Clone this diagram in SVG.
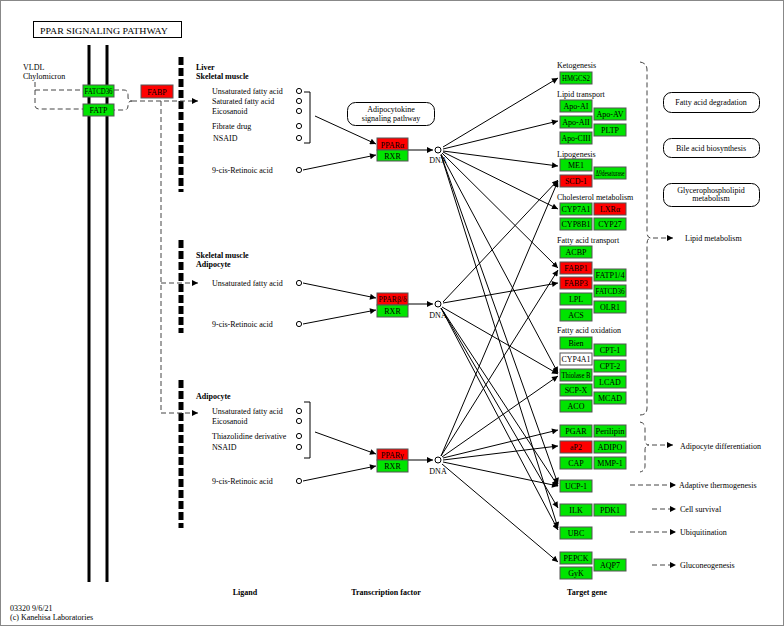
<svg xmlns="http://www.w3.org/2000/svg" width="784" height="626" viewBox="0 0 784 626">
<defs>
<marker id="ah" viewBox="0 0 10 10" refX="10" refY="5" markerWidth="7" markerHeight="6" markerUnits="userSpaceOnUse" orient="auto"><path d="M0,0 L10,5 L0,10 z" fill="#000"/></marker>
<style>
text{font-family:"Liberation Serif","Times New Roman",serif;font-size:8px;fill:#000}
.b{font-weight:bold}
.c{text-anchor:middle}
.g rect{stroke:#555;stroke-width:1}
.g text{font-size:8px}
.gr{fill:#00e400}
.rd{fill:#ff0000}
.wh{fill:#fff}
.ln{stroke:#000;stroke-width:1;fill:none}
.ar{stroke:#000;stroke-width:1;fill:none;marker-end:url(#ah)}
.ds{stroke:#444;stroke-width:1;fill:none;stroke-dasharray:5,3}
.bar{stroke:#000;stroke-width:5;stroke-dasharray:8,3}
.cir{fill:#fff;stroke:#000;stroke-width:1}
.rr{fill:#fff;stroke:#000;stroke-width:1}
</style>
</defs>
<rect x="0.5" y="0.5" width="783" height="625" fill="#fff" stroke="#888"/>
<g id="title"><rect x="33.5" y="21.5" width="148" height="16" fill="#fff" stroke="#000"/><text x="104" y="33.5" class="c" font-size="10.5" textLength="128" lengthAdjust="spacingAndGlyphs">PPAR SIGNALING PATHWAY</text></g>
<g id="membrane"><line x1="89" y1="45" x2="89" y2="582" stroke="#000" stroke-width="3"/><line x1="107" y1="45" x2="107" y2="582" stroke="#000" stroke-width="3"/></g>
<g id="bars"><line class="bar" x1="181" y1="57" x2="181" y2="192"/><line class="bar" x1="181" y1="240" x2="181" y2="333"/><line class="bar" x1="181" y1="380" x2="181" y2="528"/></g>
<g id="vldl"><text x="23" y="70">VLDL</text><text x="23" y="79">Chylomicron</text></g>
<g id="connectors">
<path class="ds" d="M35,82 V105 Q35,109 39,109 H83 M35,90 H83"/>
<path class="ds" d="M114,90 H124 Q128,90 128,95 V97 Q128,101 132,101 Q128,101 128,105 V106 Q128,110 124,110 H114"/>
<path class="ds" d="M132,101 H198" marker-end="url(#ah)"/>
<path class="ds" d="M161,101 V413 H198" marker-end="url(#ah)"/>
<path class="ds" d="M161,283 H198" marker-end="url(#ah)"/>
<path class="ln" d="M304,92 H310 V143 H304 M304,402 H310 V458 H304"/>
<line class="ar" x1="315" y1="116" x2="376" y2="144"/>
<line class="ar" x1="303" y1="170" x2="376" y2="155"/>
<line class="ar" x1="303" y1="283" x2="376" y2="298"/>
<line class="ar" x1="303" y1="324" x2="376" y2="310"/>
<line class="ar" x1="315" y1="432" x2="376" y2="454"/>
<line class="ar" x1="303" y1="481" x2="376" y2="466"/>
<line class="ar" x1="408" y1="150" x2="433" y2="150"/>
<line class="ar" x1="408" y1="304" x2="433" y2="304"/>
<line class="ar" x1="408" y1="460" x2="433" y2="460"/>
<line class="ar" x1="443" y1="147" x2="558" y2="78"/>
<line class="ar" x1="443" y1="149" x2="558" y2="121"/>
<line class="ar" x1="443" y1="151" x2="558" y2="166"/>
<line class="ar" x1="443" y1="152" x2="558" y2="209"/>
<line class="ar" x1="442" y1="153" x2="558" y2="268"/>
<line class="ar" x1="441" y1="154" x2="558" y2="373"/>
<line class="ar" x1="441" y1="155" x2="558" y2="484"/>
<line class="ar" x1="441" y1="155" x2="558" y2="528"/>
<line class="ar" x1="443" y1="302" x2="558" y2="180"/>
<line class="ar" x1="443" y1="303" x2="558" y2="283"/>
<line class="ar" x1="442" y1="307" x2="558" y2="374"/>
<line class="ar" x1="441" y1="308" x2="558" y2="486"/>
<line class="ar" x1="441" y1="308" x2="558" y2="508"/>
<line class="ar" x1="441" y1="308" x2="558" y2="530"/>
<line class="ar" x1="441" y1="456" x2="558" y2="181"/>
<line class="ar" x1="441" y1="456" x2="558" y2="270"/>
<line class="ar" x1="442" y1="457" x2="558" y2="376"/>
<line class="ar" x1="443" y1="458" x2="558" y2="430"/>
<line class="ar" x1="443" y1="460" x2="558" y2="446"/>
<line class="ar" x1="443" y1="462" x2="558" y2="486"/>
<line class="ar" x1="442" y1="464" x2="558" y2="562"/>
<path class="ds" d="M640,62 Q647,63 647,70 V232 Q647,238 651,238 Q647,238 647,244 V408 Q647,415 640,415"/>
<path class="ds" d="M653,238 H673" marker-end="url(#ah)"/>
<path class="ds" d="M640,422 Q645,423 645,428 V440 Q645,445 649,445 Q645,445 645,450 V466 Q645,471 640,472"/>
<path class="ds" d="M652,445 H673" marker-end="url(#ah)"/>
<path class="ds" d="M630,485 H676" marker-end="url(#ah)"/>
<path class="ds" d="M652,509 H676" marker-end="url(#ah)"/>
<path class="ds" d="M630,532 H676" marker-end="url(#ah)"/>
<path class="ds" d="M652,565 H676" marker-end="url(#ah)"/>
</g>
<g id="FATCD36_m" class="g"><rect x="83" y="85" width="31" height="12" class="gr"/><text x="98.5" y="94" class="c" textLength="28" lengthAdjust="spacingAndGlyphs">FATCD36</text></g>
<g id="FATP_m" class="g"><rect x="83" y="104" width="31" height="12" class="gr"/><text x="98.5" y="113" class="c">FATP</text></g>
<g id="FABP_m" class="g"><rect x="141" y="85" width="32" height="13" class="rd"/><text x="157" y="94.5" class="c">FABP</text></g>
<g id="lig1">
<text x="196" y="70" class="b">Liver</text><text x="196" y="79" class="b">Skeletal muscle</text>
<text x="212" y="94">Unsaturated fatty acid</text><text x="212" y="104">Saturated fatty acid</text><text x="212" y="114">Eicosanoid</text><text x="212" y="129">Fibrate drug</text><text x="213" y="141">NSAID</text><text x="212" y="173">9-cis-Retinoic acid</text>
<circle class="cir" cx="299" cy="91" r="2.6"/><circle class="cir" cx="299" cy="101" r="2.6"/><circle class="cir" cx="299" cy="111" r="2.6"/><circle class="cir" cx="299" cy="126" r="2.6"/><circle class="cir" cx="299" cy="138" r="2.6"/><circle class="cir" cx="299" cy="170" r="2.6"/>
</g>
<g id="lig2">
<text x="196" y="258" class="b">Skeletal muscle</text><text x="196" y="267" class="b">Adipocyte</text>
<text x="212" y="286">Unsaturated fatty acid</text><text x="212" y="327">9-cis-Retinoic acid</text>
<circle class="cir" cx="299" cy="283" r="2.6"/><circle class="cir" cx="299" cy="324" r="2.6"/>
</g>
<g id="lig3">
<text x="196" y="399" class="b">Adipocyte</text>
<text x="212" y="414">Unsaturated fatty acid</text><text x="212" y="424">Eicosanoid</text><text x="212" y="439">Thiazolidine derivative</text><text x="212" y="450">NSAID</text><text x="212" y="484">9-cis-Retinoic acid</text>
<circle class="cir" cx="299" cy="411" r="2.6"/><circle class="cir" cx="299" cy="421" r="2.6"/><circle class="cir" cx="299" cy="436" r="2.6"/><circle class="cir" cx="299" cy="447" r="2.6"/><circle class="cir" cx="299" cy="481" r="2.6"/>
</g>
<g id="adipocytokine"><rect class="rr" x="347.5" y="102.5" width="87" height="23" rx="8"/><text x="391" y="112" class="c">Adipocytokine</text><text x="391" y="121" class="c">signaling pathway</text></g>
<g id="PPARa" class="g"><rect x="377" y="138" width="31" height="12" class="rd"/><rect x="377" y="150" width="31" height="11" class="gr"/><text x="392.5" y="147.5" class="c">PPARα</text><text x="392.5" y="158.5" class="c">RXR</text></g>
<g id="PPARbd" class="g"><rect x="377" y="293" width="31" height="12" class="rd"/><rect x="377" y="305" width="31" height="12" class="gr"/><text x="392.5" y="302" class="c" textLength="28" lengthAdjust="spacingAndGlyphs">PPARβ/δ</text><text x="392.5" y="314" class="c">RXR</text></g>
<g id="PPARg" class="g"><rect x="377" y="449" width="31" height="11" class="rd"/><rect x="377" y="460" width="31" height="12" class="gr"/><text x="392.5" y="457.5" class="c">PPARγ</text><text x="392.5" y="469" class="c">RXR</text></g>
<g id="DNA1"><circle class="cir" cx="438" cy="150" r="3"/><text x="438" y="163" class="c">DNA</text></g>
<g id="DNA2"><circle class="cir" cx="438" cy="304" r="3"/><text x="438" y="318" class="c">DNA</text></g>
<g id="DNA3"><circle class="cir" cx="438" cy="460" r="3"/><text x="438" y="474" class="c">DNA</text></g>
<g id="cats"><text x="557" y="68">Ketogenesis</text><text x="557" y="97">Lipid transport</text><text x="557" y="157">Lipogenesis</text><text x="557" y="200">Cholesterol metabolism</text><text x="557" y="243">Fatty acid transport</text><text x="557" y="333">Fatty acid oxidation</text></g>
<g id="HMGCS2" class="g"><rect x="560" y="72" width="32" height="12" class="gr"/><text x="576" y="81" class="c" textLength="28" lengthAdjust="spacingAndGlyphs">HMGCS2</text></g>
<g id="ApoAI" class="g"><rect x="560" y="100" width="32" height="12" class="gr"/><text x="576" y="109" class="c">Apo-AI</text></g>
<g id="ApoAII" class="g"><rect x="560" y="116" width="32" height="12" class="gr"/><text x="576" y="125" class="c">Apo-AII</text></g>
<g id="ApoCIII" class="g"><rect x="560" y="132" width="32" height="12" class="gr"/><text x="576" y="141" class="c" textLength="29" lengthAdjust="spacingAndGlyphs">Apo-CIII</text></g>
<g id="ApoAV" class="g"><rect x="594" y="108" width="32" height="12" class="gr"/><text x="610" y="117" class="c">Apo-AV</text></g>
<g id="PLTP" class="g"><rect x="594" y="124" width="32" height="12" class="gr"/><text x="610" y="133" class="c">PLTP</text></g>
<g id="ME1" class="g"><rect x="560" y="159" width="32" height="12" class="gr"/><text x="576" y="168" class="c">ME1</text></g>
<g id="SCD1" class="g"><rect x="560" y="175" width="32" height="12" class="rd"/><text x="576" y="184" class="c">SCD-1</text></g>
<g id="D9desaturase" class="g"><rect x="594" y="167" width="32" height="12" class="gr"/><text x="610" y="176" class="c" textLength="29" lengthAdjust="spacingAndGlyphs">Δ9desaturase</text></g>
<g id="CYP7A1" class="g"><rect x="560" y="203" width="32" height="12" class="gr"/><text x="576" y="212" class="c" textLength="29" lengthAdjust="spacingAndGlyphs">CYP7A1</text></g>
<g id="LXRa" class="g"><rect x="594" y="203" width="32" height="12" class="rd"/><text x="610" y="212" class="c">LXRα</text></g>
<g id="CYP8B1" class="g"><rect x="560" y="218" width="32" height="12" class="gr"/><text x="576" y="227" class="c" textLength="29" lengthAdjust="spacingAndGlyphs">CYP8B1</text></g>
<g id="CYP27" class="g"><rect x="594" y="218" width="32" height="12" class="gr"/><text x="610" y="227" class="c">CYP27</text></g>
<g id="ACBP" class="g"><rect x="560" y="246" width="32" height="12" class="gr"/><text x="576" y="255" class="c">ACBP</text></g>
<g id="FABP1" class="g"><rect x="560" y="262" width="32" height="12" class="rd"/><text x="576" y="271" class="c">FABP1</text></g>
<g id="FABP3" class="g"><rect x="560" y="277" width="32" height="12" class="rd"/><text x="576" y="286" class="c">FABP3</text></g>
<g id="LPL" class="g"><rect x="560" y="293" width="32" height="12" class="gr"/><text x="576" y="302" class="c">LPL</text></g>
<g id="ACS" class="g"><rect x="560" y="309" width="32" height="12" class="gr"/><text x="576" y="318" class="c">ACS</text></g>
<g id="FATP14" class="g"><rect x="594" y="269" width="32" height="12" class="gr"/><text x="610" y="278" class="c" textLength="29" lengthAdjust="spacingAndGlyphs">FATP1/4</text></g>
<g id="FATCD36" class="g"><rect x="594" y="285" width="32" height="12" class="gr"/><text x="610" y="294" class="c" textLength="29" lengthAdjust="spacingAndGlyphs">FATCD36</text></g>
<g id="OLR1" class="g"><rect x="594" y="301" width="32" height="12" class="gr"/><text x="610" y="310" class="c">OLR1</text></g>
<g id="Bien" class="g"><rect x="560" y="337" width="32" height="12" class="gr"/><text x="576" y="346" class="c">Bien</text></g>
<g id="CYP4A1" class="g"><rect x="560" y="353" width="32" height="12" class="wh"/><text x="576" y="362" class="c" textLength="29" lengthAdjust="spacingAndGlyphs">CYP4A1</text></g>
<g id="ThiolaseB" class="g"><rect x="560" y="369" width="32" height="12" class="gr"/><text x="576" y="378" class="c" textLength="29" lengthAdjust="spacingAndGlyphs">Thiolase B</text></g>
<g id="SCPX" class="g"><rect x="560" y="384" width="32" height="12" class="gr"/><text x="576" y="393" class="c">SCP-X</text></g>
<g id="ACO" class="g"><rect x="560" y="400" width="32" height="12" class="gr"/><text x="576" y="409" class="c">ACO</text></g>
<g id="CPT1" class="g"><rect x="594" y="344" width="32" height="12" class="gr"/><text x="610" y="353" class="c">CPT-1</text></g>
<g id="CPT2" class="g"><rect x="594" y="360" width="32" height="12" class="gr"/><text x="610" y="369" class="c">CPT-2</text></g>
<g id="LCAD" class="g"><rect x="594" y="376" width="32" height="12" class="gr"/><text x="610" y="385" class="c">LCAD</text></g>
<g id="MCAD" class="g"><rect x="594" y="392" width="32" height="12" class="gr"/><text x="610" y="401" class="c">MCAD</text></g>
<g id="PGAR" class="g"><rect x="560" y="425" width="32" height="12" class="gr"/><text x="576" y="434" class="c">PGAR</text></g>
<g id="Perilipin" class="g"><rect x="594" y="425" width="32" height="12" class="gr"/><text x="610" y="434" class="c" textLength="29" lengthAdjust="spacingAndGlyphs">Perilipin</text></g>
<g id="aP2" class="g"><rect x="560" y="441" width="32" height="12" class="rd"/><text x="576" y="450" class="c">aP2</text></g>
<g id="ADIPO" class="g"><rect x="594" y="441" width="32" height="12" class="gr"/><text x="610" y="450" class="c">ADIPO</text></g>
<g id="CAP" class="g"><rect x="560" y="457" width="32" height="12" class="gr"/><text x="576" y="466" class="c">CAP</text></g>
<g id="MMP1" class="g"><rect x="594" y="457" width="32" height="12" class="gr"/><text x="610" y="466" class="c">MMP-1</text></g>
<g id="UCP1" class="g"><rect x="560" y="480" width="32" height="12" class="gr"/><text x="576" y="489" class="c">UCP-1</text></g>
<g id="ILK" class="g"><rect x="560" y="504" width="32" height="12" class="gr"/><text x="576" y="513" class="c">ILK</text></g>
<g id="PDK1" class="g"><rect x="594" y="504" width="32" height="12" class="gr"/><text x="610" y="513" class="c">PDK1</text></g>
<g id="UBC" class="g"><rect x="560" y="527" width="32" height="12" class="gr"/><text x="576" y="536" class="c">UBC</text></g>
<g id="PEPCK" class="g"><rect x="560" y="552" width="32" height="12" class="gr"/><text x="576" y="561" class="c">PEPCK</text></g>
<g id="GyK" class="g"><rect x="560" y="567" width="32" height="12" class="gr"/><text x="576" y="576" class="c">GyK</text></g>
<g id="AQP7" class="g"><rect x="594" y="559" width="32" height="12" class="gr"/><text x="610" y="568" class="c">AQP7</text></g>
<g id="FAdeg"><rect class="rr" x="663.5" y="92.5" width="96" height="20" rx="8"/><text x="711" y="105" class="c">Fatty acid degradation</text></g>
<g id="Bile"><rect class="rr" x="663.5" y="138.5" width="96" height="19" rx="8"/><text x="711" y="151" class="c">Bile acid biosynthesis</text></g>
<g id="Glycero"><rect class="rr" x="663.5" y="183.5" width="96" height="23" rx="8"/><text x="711" y="193" class="c">Glycerophospholipid</text><text x="711" y="201" class="c">metabolism</text></g>
<g id="outputs"><text x="685" y="241">Lipid metabolism</text><text x="680" y="449">Adipocyte differentiation</text><text x="679" y="488">Adaptive thermogenesis</text><text x="680" y="512">Cell survival</text><text x="680" y="535">Ubiquitination</text><text x="680" y="568">Gluconeogenesis</text></g>
<g id="footer"><text x="245" y="595" class="b c">Ligand</text><text x="386" y="595" class="b c">Transcription factor</text><text x="587" y="595" class="b c">Target gene</text><text x="10" y="611">03320 9/6/21</text><text x="10" y="620">(c) Kanehisa Laboratories</text></g>
</svg>
